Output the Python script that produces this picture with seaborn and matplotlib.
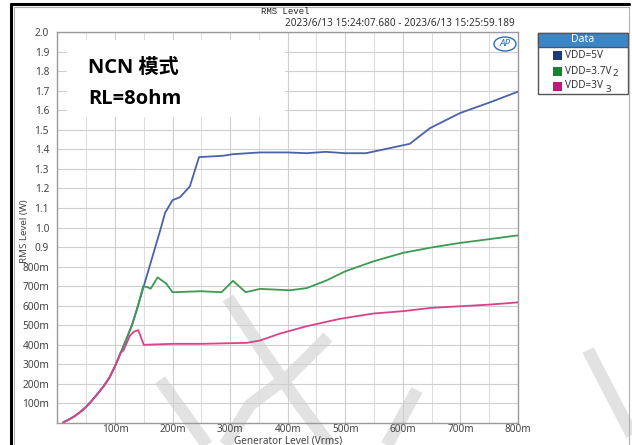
import numpy as np
import pandas as pd
import matplotlib
matplotlib.use("Agg")
import matplotlib.pyplot as plt
import seaborn as sns
from matplotlib.patches import Rectangle, Ellipse
from matplotlib.lines import Line2D
from matplotlib.ticker import FixedLocator, MultipleLocator

# ---------------- data (Generator level in Vrms, RMS level in W) ----------------
series_names = ["VDD=5V", "VDD=3.7V", "VDD=3V"]
series_suffix = ["", "2", "3"]

x_5v = [0.010, 0.020, 0.030, 0.040, 0.050, 0.060, 0.070, 0.080, 0.090, 0.100,
        0.110, 0.120, 0.130, 0.140, 0.150, 0.160, 0.170, 0.180, 0.187, 0.200,
        0.213, 0.230, 0.246, 0.288, 0.305, 0.352, 0.400, 0.433, 0.466, 0.500,
        0.536, 0.612, 0.647, 0.699, 0.752, 0.800]
y_5v = [0.003, 0.018, 0.035, 0.057, 0.083, 0.115, 0.150, 0.187, 0.230, 0.290,
        0.360, 0.430, 0.505, 0.600, 0.700, 0.800, 0.900, 1.000, 1.075, 1.140,
        1.155, 1.210, 1.360, 1.367, 1.375, 1.384, 1.384, 1.380, 1.387, 1.380,
        1.380, 1.428, 1.508, 1.585, 1.641, 1.695]

x_37v = [0.010, 0.020, 0.030, 0.040, 0.050, 0.060, 0.070, 0.080, 0.090, 0.100,
         0.110, 0.120, 0.130, 0.140, 0.149, 0.156, 0.162, 0.174, 0.189, 0.200,
         0.250, 0.285, 0.305, 0.327, 0.352, 0.404, 0.433, 0.468, 0.500, 0.549,
         0.600, 0.650, 0.699, 0.752, 0.800]
y_37v = [0.003, 0.018, 0.035, 0.057, 0.083, 0.115, 0.150, 0.187, 0.230, 0.290,
         0.360, 0.430, 0.505, 0.600, 0.700, 0.695, 0.687, 0.745, 0.713, 0.669,
         0.674, 0.669, 0.727, 0.669, 0.686, 0.679, 0.690, 0.730, 0.776, 0.827,
         0.870, 0.898, 0.921, 0.941, 0.960]

x_3v = [0.010, 0.020, 0.030, 0.040, 0.050, 0.060, 0.070, 0.080, 0.090, 0.100,
        0.110, 0.1146, 0.126, 0.133, 0.1405, 0.150, 0.201, 0.250, 0.329, 0.352,
        0.387, 0.433, 0.491, 0.549, 0.600, 0.650, 0.699, 0.752, 0.800]
y_3v = [0.003, 0.018, 0.035, 0.057, 0.083, 0.115, 0.150, 0.187, 0.230, 0.290,
        0.360, 0.370, 0.447, 0.467, 0.475, 0.400, 0.405, 0.405, 0.410, 0.422,
        0.458, 0.495, 0.533, 0.560, 0.572, 0.589, 0.597, 0.606, 0.617]

x_ticks = [0.1, 0.2, 0.3, 0.4, 0.5, 0.6, 0.7, 0.8]
x_tick_labels = ["100m", "200m", "300m", "400m", "500m", "600m", "700m", "800m"]
y_ticks = [0.1, 0.2, 0.3, 0.4, 0.5, 0.6, 0.7, 0.8, 0.9, 1.0, 1.1, 1.2, 1.3,
           1.4, 1.5, 1.6, 1.7, 1.8, 1.9, 2.0]
y_tick_labels = ["100m", "200m", "300m", "400m", "500m", "600m", "700m", "800m",
                 "0.9", "1.0", "1.1", "1.2", "1.3", "1.4", "1.5", "1.6", "1.7",
                 "1.8", "1.9", "2.0"]

line_colors = ["#4a62a8", "#3d9a52", "#d9428c"]
legend_colors = ["#1b3a7c", "#14862c", "#c4167c"]

df = pd.concat([
    pd.DataFrame({"gen": x_5v, "rms": y_5v, "series": series_names[0]}),
    pd.DataFrame({"gen": x_37v, "rms": y_37v, "series": series_names[1]}),
    pd.DataFrame({"gen": x_3v, "rms": y_3v, "series": series_names[2]}),
], ignore_index=True)

# ---------------- figure ----------------
sns.set_theme(style="white")
plt.rcParams["font.family"] = ["Noto Sans", "DejaVu Sans"]

W, H = 632, 445
fig = plt.figure(figsize=(W / 100, H / 100), dpi=100)
fig.patch.set_facecolor("white")

x0, x1, y0, y1 = 57.4, 518.0, 32.0, 423.0
ax = fig.add_axes([x0 / W, 1 - y1 / H, (x1 - x0) / W, (y1 - y0) / H])


def px(x, y):
    return (x / W, 1 - y / H)


sns.lineplot(data=df, x="gen", y="rms", hue="series", palette=line_colors,
             hue_order=series_names, estimator=None, sort=False,
             linewidth=1.3, legend=False, ax=ax, zorder=5)

ax.set_xlim(0, 0.8)
ax.set_ylim(0, 2.0)
ax.xaxis.set_major_locator(FixedLocator(x_ticks))
ax.set_xticklabels(x_tick_labels)
ax.xaxis.set_minor_locator(MultipleLocator(0.05))
ax.yaxis.set_major_locator(FixedLocator(y_ticks))
ax.set_yticklabels(y_tick_labels)

ax.grid(True, which="major", color="#cfcfcf", linewidth=0.8)
ax.grid(True, which="minor", axis="x", color="#dedede", linewidth=0.8)
ax.set_axisbelow(True)
for s in ax.spines.values():
    s.set_color("#9a9a9a")
    s.set_linewidth(1.0)
ax.tick_params(axis="y", which="major", labelsize=7.3, colors="#9a9a9a",
               labelcolor="#444444", length=4, width=0.8, direction="out", pad=2)
ax.tick_params(axis="x", which="major", labelsize=7.2, colors="#9a9a9a",
               labelcolor="#444444", length=0, width=0.8, direction="out", pad=1)
ax.tick_params(axis="x", which="minor", length=0)

ax.set_xlabel("Generator Level (Vrms)", fontsize=7.2, color="#444444")
ax.set_ylabel("RMS Level (W)", fontsize=7, color="#444444")
ax.xaxis.set_label_coords(0.5, -0.031)
ax.yaxis.set_label_coords(-0.062, 0.49)

# white box with annotation
box = Rectangle(px(67, 117), (285 - 67) / W, (117 - 40) / H,
                transform=fig.transFigure, facecolor="white", edgecolor="none",
                zorder=3)
ax.add_artist(box)
box.set_transform(fig.transFigure)
ax.text(88 / W, 1 - 73 / H, "NCN 模式", transform=fig.transFigure,
        fontsize=14.5, fontweight="bold", color="black",
        family=["Open Sans", "Noto Sans CJK SC"], va="baseline", zorder=6)
ax.text(88 / W, 1 - 104 / H, "RL=8ohm", transform=fig.transFigure,
        fontsize=14.5, fontweight="bold", color="black",
        family=["Open Sans", "Noto Sans CJK SC"], va="baseline", zorder=6)

# faint watermark strokes of the screenshot (behind grid, labels and curves)
wm_strokes = [
    [(228, 298), (262, 350), (300, 405), (330, 445)],
    [(328, 337), (290, 375), (250, 405), (225, 445)],
    [(160, 380), (207, 445)],
    [(417, 390), (387, 445)],
    [(588, 350), (632, 435)],
]
for stroke in wm_strokes:
    xs_ = [p[0] / W for p in stroke]
    ys_ = [1 - p[1] / H for p in stroke]
    ax.add_line(Line2D(xs_, ys_, transform=fig.transFigure, color="#e2e2e2",
                       linewidth=9, solid_capstyle="butt",
                       solid_joinstyle="round", zorder=0.3, clip_on=False))

# titles
fig.text(285 / W, 1 - 12 / H, "RMS Level", fontsize=6.5,
         family=["Liberation Mono", "DejaVu Sans Mono"], ha="center",
         va="center", color="#222222")
fig.text(515 / W, 1 - 24 / H, "2023/6/13 15:24:07.680 - 2023/6/13 15:25:59.189",
         fontsize=7.2, ha="right", va="center", color="#333333")

# AP logo
fig.patches.append(Ellipse(px(505, 44), 22 / W, 14 / H, transform=fig.transFigure,
                           facecolor="white", edgecolor="#2a6ebb", linewidth=1.0))
fig.text(505 / W, 1 - 44 / H, "AP", fontsize=7, fontweight="bold", style="italic",
         color="#2a6ebb", ha="center", va="center")

# legend
lx0, lx1, ly0, ly1 = 538, 628, 33, 94
fig.patches.append(Rectangle(px(lx0, ly1), (lx1 - lx0) / W, (ly1 - ly0) / H,
                             transform=fig.transFigure, facecolor="white",
                             edgecolor="#555555", linewidth=1.0))
fig.patches.append(Rectangle(px(lx0, 47), (lx1 - lx0) / W, (47 - ly0) / H,
                             transform=fig.transFigure, facecolor="#3a86c8",
                             edgecolor="#555555", linewidth=1.0))
fig.text((lx0 + lx1) / 2 / W, 1 - 40 / H, "Data", fontsize=7.5, fontweight="bold",
         color="white", ha="center", va="center")
entry_y = [55, 71, 86]
for name, suf, col, yy in zip(series_names, series_suffix, legend_colors, entry_y):
    fig.patches.append(Rectangle(px(553, yy + 4.5), 8.5 / W, 9 / H,
                                 transform=fig.transFigure, facecolor=col,
                                 edgecolor="none"))
    fig.text(565 / W, 1 - yy / H, name, fontsize=7.2, color="#333333",
             ha="left", va="center")
    if suf:
        xs = 613 if suf == "2" else 606
        fig.text(xs / W, 1 - (yy + 3) / H, suf, fontsize=7, color="#333333",
                 ha="left", va="center")

# outer frame of the screenshot
fig.lines.append(Line2D([11 / W, 11 / W], [0, 1 - 4 / H], transform=fig.transFigure,
                        color="black", linewidth=2.2))
fig.lines.append(Line2D([11 / W, 629 / W], [1 - 4 / H, 1 - 4 / H],
                        transform=fig.transFigure, color="black", linewidth=2.2))
fig.lines.append(Line2D([14 / W, 14 / W], [0, 1 - 7 / H], transform=fig.transFigure,
                        color="#b0b0b0", linewidth=0.8))
fig.lines.append(Line2D([14 / W, 629 / W], [1 - 7 / H, 1 - 7 / H],
                        transform=fig.transFigure, color="#b0b0b0", linewidth=0.8))
fig.lines.append(Line2D([629 / W, 629 / W], [0, 1 - 7 / H], transform=fig.transFigure,
                        color="#b0b0b0", linewidth=0.8))

fig.savefig("out.png", dpi=100, facecolor="white")
